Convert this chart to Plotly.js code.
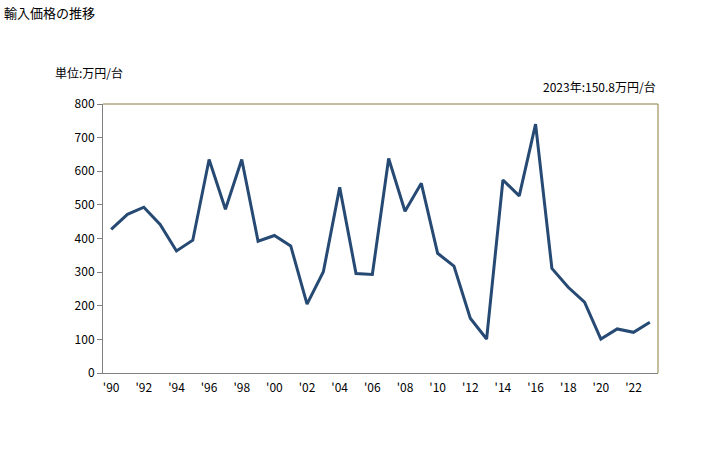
<!DOCTYPE html>
<html>
<head>
<meta charset="utf-8">
<script src="https://cdn.plot.ly/plotly-3.0.1.min.js"></script>
<style>html,body{margin:0;padding:0;background:#fff;}#chart{width:728px;height:450px;}</style>
</head>
<body>
<div id="chart"></div>
<script>
const years = [1990,1991,1992,1993,1994,1995,1996,1997,1998,1999,2000,2001,2002,2003,2004,2005,2006,2007,2008,2009,2010,2011,2012,2013,2014,2015,2016,2017,2018,2019,2020,2021,2022,2023];
const prices = [427,472,493,442,363,395,635,487,635,392,409,378,205,301,552,296,293,638,481,564,356,318,163,101,574,527,740,311,255,211,101,131,121,150.8];
const tickYears = [1990,1992,1994,1996,1998,2000,2002,2004,2006,2008,2010,2012,2014,2016,2018,2020,2022];
const tickLabels = ["'90","'92","'94","'96","'98","'00","'02","'04","'06","'08","'10","'12","'14","'16","'18","'20","'22"];
const yTicks = [0,100,200,300,400,500,600,700,800];

const font = "'Noto Sans CJK JP', 'DejaVu Sans', sans-serif";
const data = [{
  x: years, y: prices, type: 'scatter', mode: 'lines',
  line: {color: '#264a73', width: 3},
  hoverinfo: 'none'
}];
const layout = {
  width: 728, height: 450,
  margin: {l: 103, r: 70, t: 104, b: 77},
  paper_bgcolor: '#ffffff', plot_bgcolor: '#ffffff',
  font: {family: font, size: 12, color: '#000'},
  showlegend: false,
  xaxis: {
    range: [1989.5, 2023.5], tickvals: tickYears, ticktext: tickLabels,
    showgrid: false, zeroline: false, showline: true, linecolor: '#808080', linewidth: 1,
    ticks: '', ticklabelstandoff: 4, tickfont: {family: font, size: 12, color: '#000'}, fixedrange: true
  },
  yaxis: {
    range: [0, 800], tickvals: yTicks, showgrid: false, zeroline: false,
    showline: true, linecolor: '#808080', linewidth: 1,
    ticks: 'outside', ticklen: 5, tickcolor: '#808080',
    tickfont: {family: font, size: 12, color: '#000'}, fixedrange: true
  },
  shapes: [
    {type: 'line', xref: 'paper', yref: 'paper', x0: 0, x1: 1, y0: 1, y1: 1, line: {color: '#8c7d3c', width: 1}},
    {type: 'line', xref: 'paper', yref: 'paper', x0: 1, x1: 1, y0: 0, y1: 1, line: {color: '#8c7d3c', width: 1}}
  ],
  annotations: [
    {text: '輸入価格の推移', xref: 'paper', yref: 'paper', x: -101/555, y: 1 + 92/269, xanchor: 'left', yanchor: 'middle', showarrow: false, font: {family: font, size: 13, color: '#000'}},
    {text: '単位:万円/台', xref: 'paper', yref: 'paper', x: -50/555, y: 1 + 31/269, xanchor: 'left', yanchor: 'middle', showarrow: false, font: {family: font, size: 12, color: '#000'}},
    {text: '2023年:150.8万円/台', xref: 'paper', yref: 'paper', x: 1, y: 1 + 18/269, xanchor: 'right', yanchor: 'middle', showarrow: false, font: {family: font, size: 12, color: '#000'}}
  ]
};
Plotly.newPlot('chart', data, layout, {staticPlot: true, displayModeBar: false});
</script>
</body>
</html>
